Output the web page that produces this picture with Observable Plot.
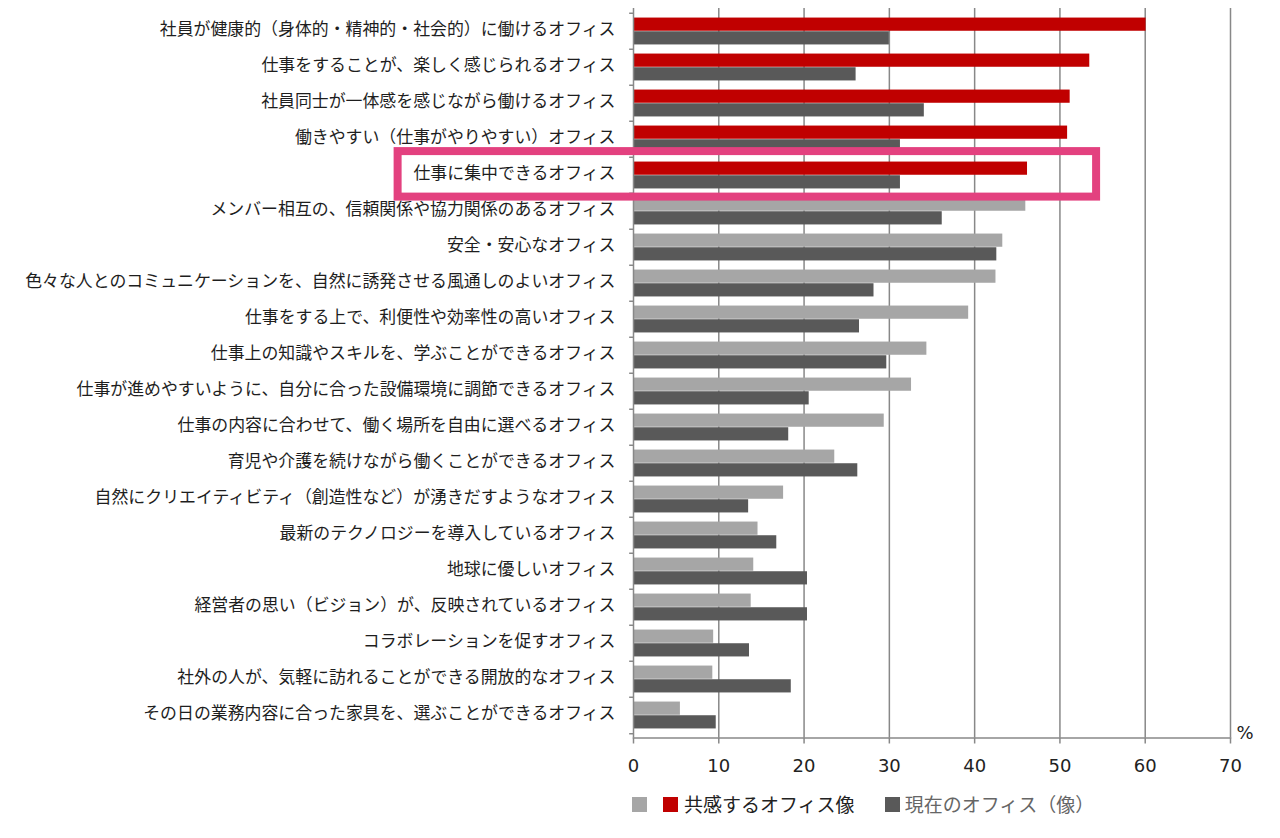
<!DOCTYPE html>
<html>
<head>
<meta charset="utf-8">
<script src="https://cdn.jsdelivr.net/npm/d3@7"></script>
<script src="https://cdn.jsdelivr.net/npm/@observablehq/plot@0.6"></script>
<style>
  body { margin: 0; background: #fff; font-family: "Noto Sans CJK JP", "Noto Sans", sans-serif; }
  #chart svg { display: block; font-family: "Noto Sans CJK JP", "Noto Sans", sans-serif; }
  #legend { display: flex; align-items: center; margin-left: 632px; margin-top: 0px; font-size: 19px; color: #222; line-height: 28px; }
  #legend .sw { width: 15px; height: 15px; display: inline-block; }
</style>
</head>
<body>
<div id="chart"></div>
<div id="legend"></div>
<script>
const categories = [
  "社員が健康的（身体的・精神的・社会的）に働けるオフィス",
  "仕事をすることが、楽しく感じられるオフィス",
  "社員同士が一体感を感じながら働けるオフィス",
  "働きやすい（仕事がやりやすい）オフィス",
  "仕事に集中できるオフィス",
  "メンバー相互の、信頼関係や協力関係のあるオフィス",
  "安全・安心なオフィス",
  "色々な人とのコミュニケーションを、自然に誘発させる風通しのよいオフィス",
  "仕事をする上で、利便性や効率性の高いオフィス",
  "仕事上の知識やスキルを、学ぶことができるオフィス",
  "仕事が進めやすいように、自分に合った設備環境に調節できるオフィス",
  "仕事の内容に合わせて、働く場所を自由に選べるオフィス",
  "育児や介護を続けながら働くことができるオフィス",
  "自然にクリエイティビティ（創造性など）が湧きだすようなオフィス",
  "最新のテクノロジーを導入しているオフィス",
  "地球に優しいオフィス",
  "経営者の思い（ビジョン）が、反映されているオフィス",
  "コラボレーションを促すオフィス",
  "社外の人が、気軽に訪れることができる開放的なオフィス",
  "その日の業務内容に合った家具を、選ぶことができるオフィス"
];
// 共感するオフィス像 (%)
const empathy = [60.1, 53.5, 51.2, 50.9, 46.2, 46.0, 43.3, 42.5, 39.3, 34.4, 32.6, 29.4, 23.6, 17.6, 14.6, 14.1, 13.8, 9.4, 9.3, 5.5];
// 現在のオフィス（像） (%)
const current = [30.0, 26.1, 34.1, 31.3, 31.3, 36.2, 42.6, 28.2, 26.5, 29.7, 20.6, 18.2, 26.3, 13.5, 16.8, 20.4, 20.4, 13.6, 18.5, 9.7];
const xTicks = [0, 10, 20, 30, 40, 50, 60, 70];
const seriesNames = ["共感するオフィス像", "現在のオフィス（像）"];
const highlightedCategories = categories.slice(0, 5);
const focusCategory = "仕事に集中できるオフィス";

const RED = "#c00000", LIGHT = "#a6a6a6", DARK = "#595959", GRID = "#888888", PINK = "#e3417f";
const NUMFONT = "'DejaVu Sans', sans-serif";
const LABELFONT = "'Noto Sans CJK JP', sans-serif";

const rows = categories.map((c, i) => ({category: c, empathy: empathy[i], current: current[i]}));

const width = 1280, height = 790;
const marginTop = 8, marginBottom = 52.5, marginLeft = 633, marginRight = 50;
const step = (height - marginTop - marginBottom) / categories.length;
const outer = step * 0.125;
const barH = (step - 2 * outer) / 2;

const chart = Plot.plot({
  width, height, marginTop, marginBottom, marginLeft, marginRight,
  x: {domain: [0, 70], axis: null},
  y: {domain: categories, padding: 0, axis: null},
  marks: [
    Plot.gridX(xTicks.slice(1), {stroke: GRID, strokeOpacity: 1, strokeWidth: 1.5}),
    Plot.barX(rows, {
      y: "category", x: "empathy",
      fill: d => highlightedCategories.includes(d.category) ? RED : LIGHT,
      insetTop: outer, insetBottom: outer + barH
    }),
    Plot.barX(rows, {
      y: "category", x: "current", fill: DARK,
      insetTop: outer + barH, insetBottom: outer
    }),
    Plot.ruleX([0], {stroke: GRID, strokeWidth: 1.5}),
    Plot.ruleY(categories, {y: d => d, x1: -0.45, x2: 0, dy: -step / 2, stroke: GRID, strokeWidth: 1.5}),
    Plot.ruleY(categories.slice(-1), {y: d => d, x1: -0.45, x2: 0, dy: step / 2, stroke: GRID, strokeWidth: 1.5}),
    Plot.frame({anchor: "bottom", stroke: GRID, strokeWidth: 1.5}),
    Plot.axisX({ticks: xTicks, tickSize: 6, tickPadding: 15, fontSize: 18, fontFamily: NUMFONT, stroke: GRID, strokeWidth: 1.5, color: "#222", tickFormat: d => String(d), label: null}),
    Plot.axisY({tickSize: 0, tickPadding: 18, fontSize: 16.9, fontFamily: LABELFONT, color: "#1e1e1e", textAnchor: "end", dy: -2, label: null}),
    Plot.text(["%"], {x: 70, frameAnchor: "bottom", dx: 6, dy: -5, textAnchor: "start", lineAnchor: "middle", fontSize: 18, fontFamily: NUMFONT, fill: "#222"}),
    Plot.barX([focusCategory], {
      y: d => d, x1: -27.6, x2: 54.3,
      fill: "none", stroke: PINK, strokeWidth: 8,
      insetTop: -5.9, insetBottom: -3.6
    })
  ]
});
document.getElementById("chart").append(chart);

const legend = document.getElementById("legend");
legend.innerHTML =
  `<span class="sw" style="background:${LIGHT}"></span>` +
  `<span class="sw" style="background:${RED};margin-left:16px"></span>` +
  `<span style="margin-left:6px">${seriesNames[0]}</span>` +
  `<span class="sw" style="background:${DARK};margin-left:30px"></span>` +
  `<span style="margin-left:5px;color:#666">${seriesNames[1]}</span>`;
</script>
</body>
</html>
